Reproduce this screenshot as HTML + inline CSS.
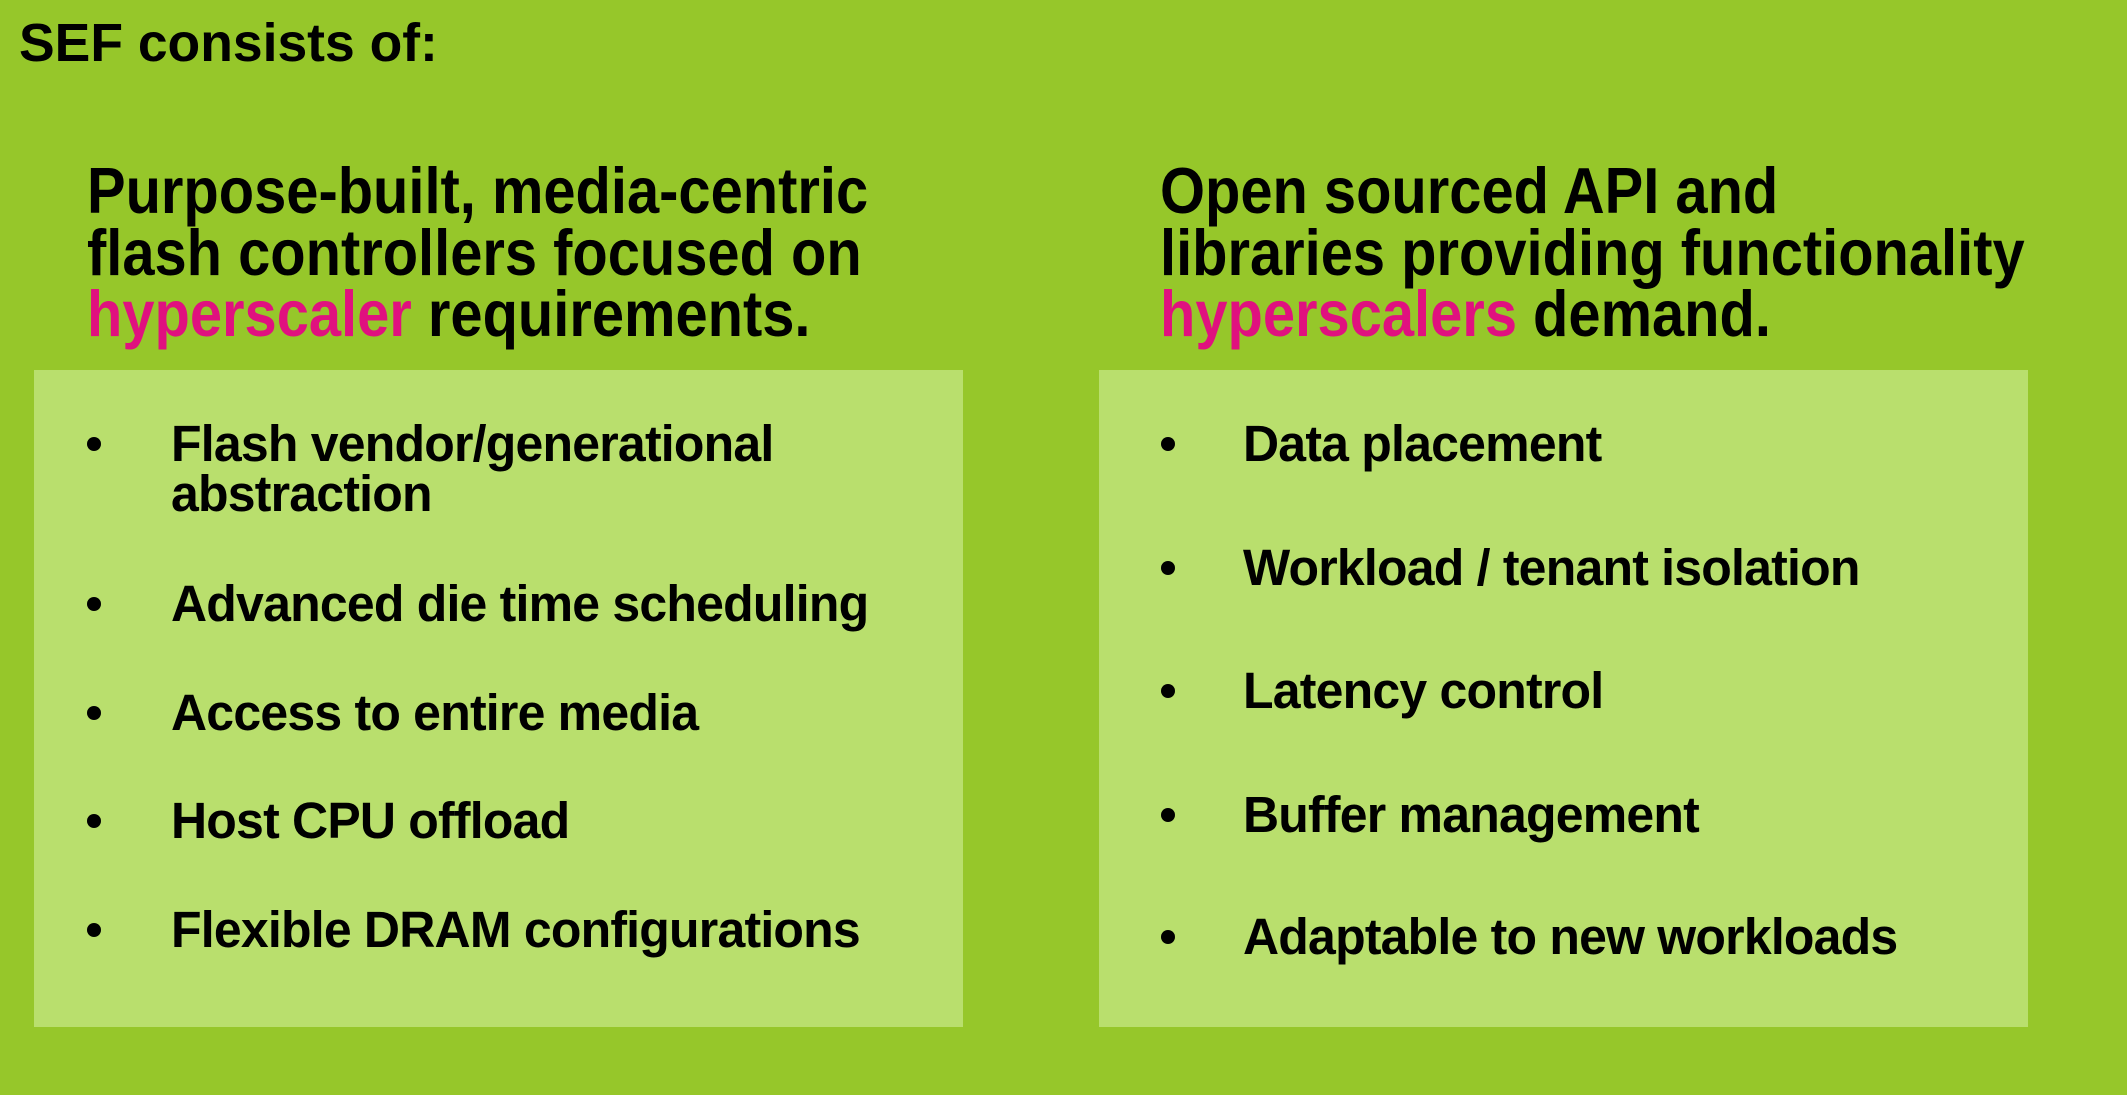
<!DOCTYPE html>
<html><head><meta charset="utf-8"><style>
body{margin:0;width:2127px;height:1095px;background:#96c72a;position:relative;overflow:hidden;font-family:"Liberation Sans",sans-serif;font-weight:bold;color:#000}
.t{position:absolute;white-space:nowrap;line-height:1;transform-origin:0 0}
.box{position:absolute;background:#b9df6d}
.p{color:#e0117f}
.h{font-size:65px;transform:scaleX(0.89)}
.b{font-size:51px;transform:scaleX(0.98);letter-spacing:-0.8px}
.d{position:absolute;width:14px;height:14px;border-radius:50%;background:#000}
</style></head><body>
<div class="t" style="left:19px;top:16px;font-size:54px;transform:scaleX(0.99)">SEF consists of:</div>

<div class="box" style="left:34px;top:370px;width:929px;height:657px"></div>
<div class="box" style="left:1099px;top:370px;width:929px;height:657px"></div>

<div class="t h" style="left:87px;top:158px">Purpose-built, media-centric</div>
<div class="t h" style="left:87px;top:220px">flash controllers focused on</div>
<div class="t h" style="left:87px;top:281px"><span class="p">hyperscaler</span> requirements.</div>

<div class="t h" style="left:1160px;top:158px">Open sourced API and</div>
<div class="t h" style="left:1160px;top:220px">libraries providing functionality</div>
<div class="t h" style="left:1160px;top:281px"><span class="p">hyperscalers</span> demand.</div>

<div class="d" style="left:87px;top:437px"></div>
<div class="t b" style="left:171px;top:418px">Flash vendor/generational</div>
<div class="t b" style="left:171px;top:468px">abstraction</div>
<div class="d" style="left:87px;top:597px"></div>
<div class="t b" style="left:171px;top:578px">Advanced die time scheduling</div>
<div class="d" style="left:87px;top:706px"></div>
<div class="t b" style="left:171px;top:687px">Access to entire media</div>
<div class="d" style="left:87px;top:814px"></div>
<div class="t b" style="left:171px;top:795px">Host CPU offload</div>
<div class="d" style="left:87px;top:923px"></div>
<div class="t b" style="left:171px;top:904px">Flexible DRAM configurations</div>

<div class="d" style="left:1161px;top:437px"></div>
<div class="t b" style="left:1243px;top:418px">Data placement</div>
<div class="d" style="left:1161px;top:561px"></div>
<div class="t b" style="left:1243px;top:542px">Workload / tenant isolation</div>
<div class="d" style="left:1161px;top:684px"></div>
<div class="t b" style="left:1243px;top:665px">Latency control</div>
<div class="d" style="left:1161px;top:808px"></div>
<div class="t b" style="left:1243px;top:789px">Buffer management</div>
<div class="d" style="left:1161px;top:930px"></div>
<div class="t b" style="left:1243px;top:911px">Adaptable to new workloads</div>
</body></html>
